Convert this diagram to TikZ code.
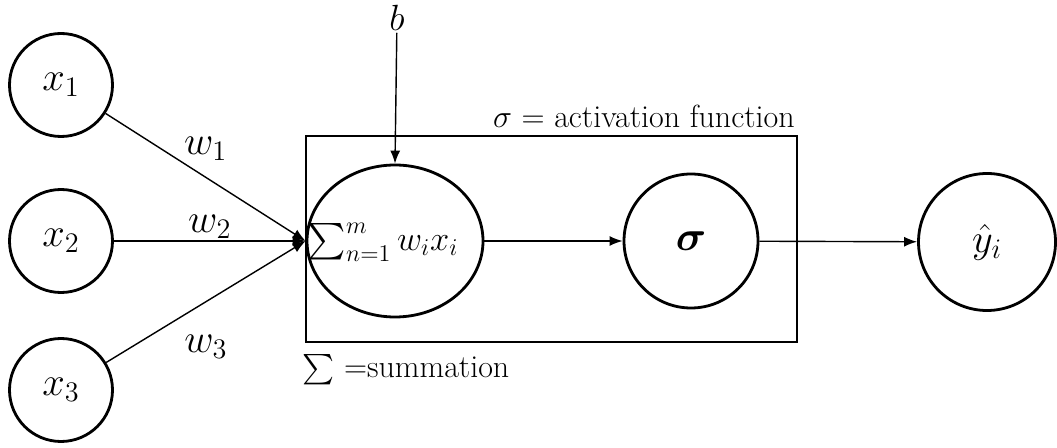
\RequirePackage{fix-cm}
\documentclass[tikz,border=0pt]{standalone}
\usepackage{amsmath}
\usepackage{bm}
\usepackage{tikz}
\usetikzlibrary{shapes.geometric,arrows.meta}
\newcommand{\mathbig}{\fontsize{23}{27}\selectfont}

\begin{document}
\begin{tikzpicture}[
			inputnode/.style={draw=black, ultra thick, circle, minimum size=2.06cm, inner sep=0pt, font=\mathbig},
			sumnode/.style={draw=black, ultra thick, ellipse, minimum width=3.52cm, minimum height=3.04cm, inner sep=0pt},
			actnode/.style={draw=black, ultra thick, circle, minimum size=2.68cm, inner sep=0pt, font=\fontsize{24}{28}\selectfont},
			outnode/.style={draw=black, ultra thick, circle, minimum size=2.74cm, inner sep=0pt, font=\mathbig},
			frame/.style={draw=black, ultra thick},
			line/.style={draw=black, thick, -{Latex[length=2.6mm, width=2mm]}},
			weight/.style={font=\mathbig, inner sep=1pt},
			note/.style={font=\fontsize{18.2}{22}\selectfont, inner sep=0pt}
			]
			\useasboundingbox (0,0) rectangle (21.14,-8.96);
			
			% Ingressi
			\node[inputnode] (x1) at (1.22,-1.70) {$x_1$};
			\node[inputnode] (x2) at (1.22,-4.82) {$x_2$};
			\node[inputnode] (x3) at (1.22,-7.80) {$x_3$};
			
			% Neurone (somma + attivazione)
			\draw[frame] (6.12,-2.72) rectangle (15.94,-6.84);
			\node[sumnode] (sum) at (7.90,-4.82) {};
			\node[font=\fontsize{19.6}{23}\selectfont, inner sep=0pt] (sumtext) at (7.66,-4.84) {$\sum_{n=1}^{m} w_i x_i$};
			\node[actnode] (act) at (13.82,-4.82) {$\bm{\sigma}$};
			\node[note, anchor=base east] (actlabel) at (15.90,-2.56) {$\sigma$ = activation function};
			\node[note, anchor=west] (sumlabel) at (6.04,-7.40) {$\sum$ =summation};
			
			% Bias
			\node[font=\huge, inner sep=1pt] (bias) at (7.94,-0.36) {$b$};
			\draw[line] (bias) -- (sum.north);
			
			% Uscita
			\node[outnode] (yhat) at (19.74,-4.84) {$\hat{y}_i$};
			
			% Pesi
			\draw[line] (x1) -- node[weight, midway, above=0.28cm] {$w_1$} (sum.west);
			\draw[line] (x2) -- node[weight, midway, above] {$w_2$} (sum.west);
			\draw[line] (x3) -- node[weight, midway, below=0.62cm] {$w_3$} (sum.west);
			
			\draw[line] (sum) -- (act);
			\draw[line] (act) -- (yhat);
			
		\end{tikzpicture}
\end{document}
